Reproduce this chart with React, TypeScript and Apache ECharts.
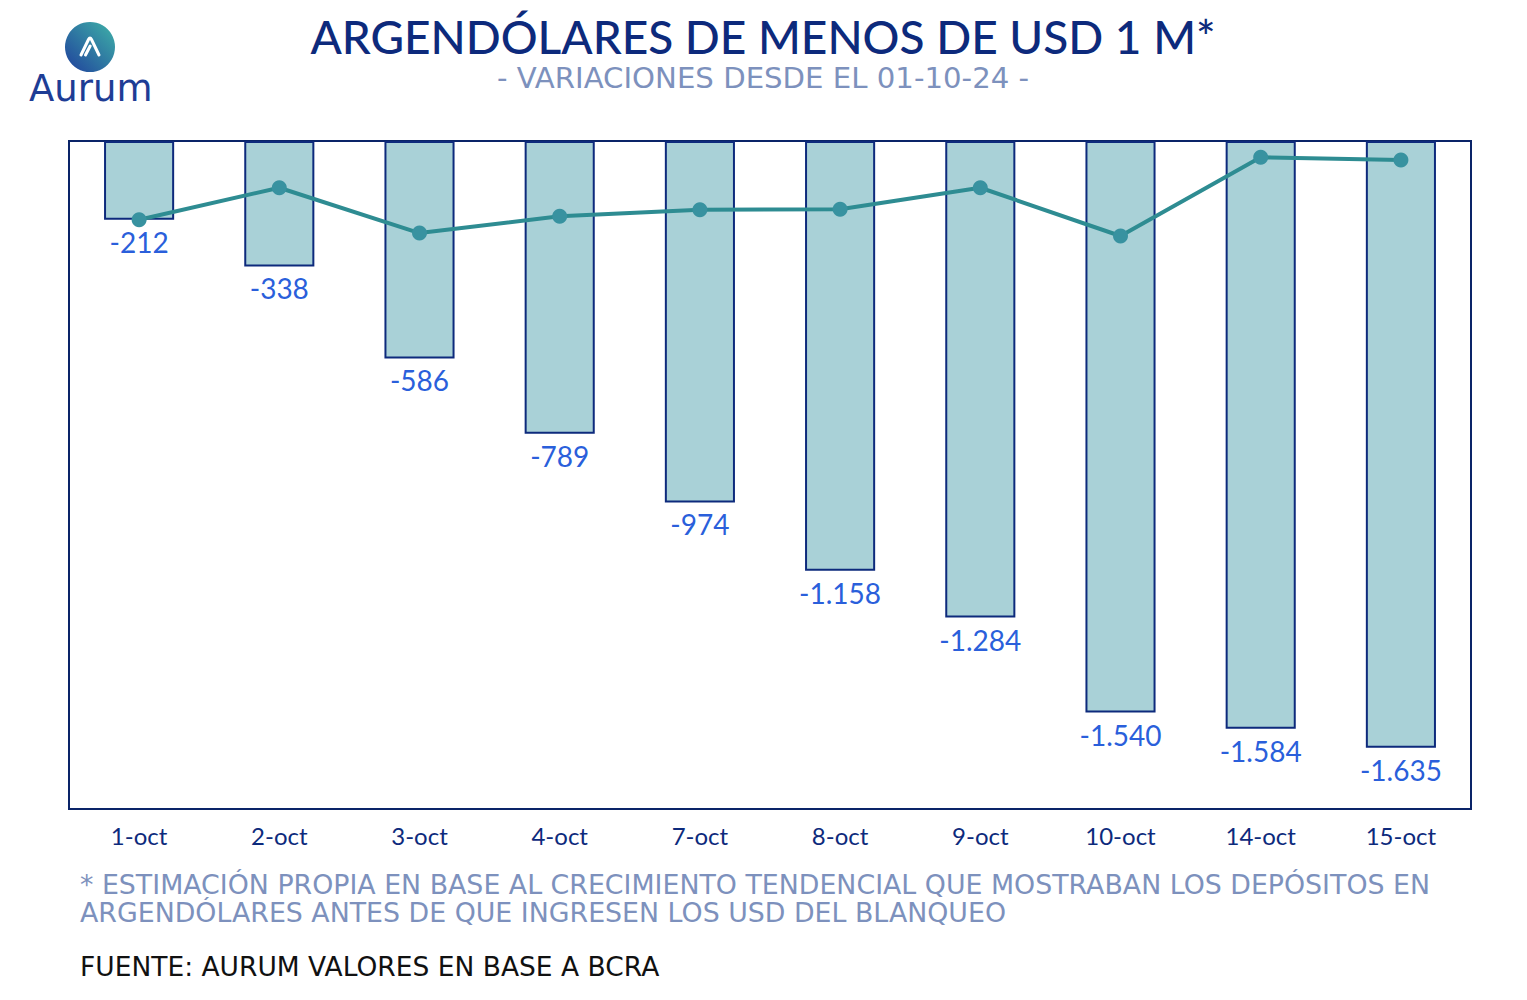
import React, { useEffect, useRef } from "react";
import * as echarts from "echarts";

const categories = ["1-oct", "2-oct", "3-oct", "4-oct", "7-oct", "8-oct", "9-oct", "10-oct", "14-oct", "15-oct"];
const cumulativeValues = [-212, -338, -586, -789, -974, -1158, -1284, -1540, -1584, -1635];
const dailyValues = [-212, -126, -248, -203, -185, -184, -126, -256, -44, -51];

const titleText = "ARGENDÓLARES DE MENOS DE USD 1 M*";
const subtitleText = "- VARIACIONES DESDE EL 01-10-24 -";
const noteLines = [
  "* ESTIMACIÓN PROPIA EN BASE AL CRECIMIENTO TENDENCIAL QUE MOSTRABAN LOS DEPÓSITOS EN",
  "ARGENDÓLARES ANTES DE QUE INGRESEN LOS USD DEL BLANQUEO",
];
const sourceText = "FUENTE: AURUM VALORES EN BASE A BCRA";
const logoText = "Aurum";

const FONT = "Lato, 'Noto Sans', sans-serif";
const WIDE = "'DejaVu Sans', sans-serif";
const NAVY = "#0d2a7c";
const LABEL_BLUE = "#2a5fdb";
const GREY_BLUE = "#7d91bd";

const ICON_D = "M3 20 L10.5 4.5 Q12 1.5 13.5 4.5 L21 20 M7.5 20 L12.2 11";

let registered = false;
function registerShapes() {
  if (registered) return;
  registered = true;
  echarts.graphic.registerShape("aurumIcon", echarts.graphic.extendPath(ICON_D, {}) as any);
}

function fmt(v: number): string {
  const s = Math.abs(v).toString();
  const withSep = s.replace(/\B(?=(\d{3})+(?!\d))/g, ".");
  return (v < 0 ? "-" : "") + withSep;
}

export default function App() {
  const ref = useRef<HTMLDivElement>(null);
  useEffect(() => {
    if (!ref.current) return;
    registerShapes();
    const chart = echarts.init(ref.current, null, { renderer: "svg" });
    chart.setOption({
      animation: false,
      backgroundColor: "#ffffff",
      textStyle: { fontFamily: FONT },
      grid: {
        left: 69,
        right: 56,
        top: 141,
        bottom: 191,
        show: true,
        borderColor: "#0a2468",
        borderWidth: 2,
        backgroundColor: "transparent",
      },
      xAxis: {
        type: "category",
        data: categories,
        position: "bottom",
        axisLine: { show: false, onZero: false },
        axisTick: { show: false },
        axisLabel: { color: NAVY, fontSize: 24, margin: 14, fontFamily: FONT },
      },
      yAxis: {
        type: "value",
        min: -1800,
        max: 0,
        axisLabel: { show: false },
        axisLine: { show: false },
        axisTick: { show: false },
        splitLine: { show: false },
      },
      series: [
        {
          type: "bar",
          data: cumulativeValues,
          barWidth: "50%",
          itemStyle: { color: "#a9d1d7", borderColor: NAVY, borderWidth: 2 },
          label: {
            show: true,
            position: "bottom",
            distance: 8,
            color: LABEL_BLUE,
            fontSize: 28,
            fontFamily: FONT,
            formatter: (p: any) => fmt(p.value),
          },
          z: 2,
        },
        {
          type: "line",
          data: dailyValues,
          symbol: "circle",
          symbolSize: 15,
          lineStyle: { color: "#2e8c92", width: 4 },
          itemStyle: { color: "#3892a0" },
          z: 5,
        },
      ],
      graphic: [
        {
          type: "circle",
          shape: { cx: 90, cy: 47, r: 25 },
          style: {
            fill: new echarts.graphic.LinearGradient(0, 1, 1, 0, [
              { offset: 0, color: "#1f3f9c" },
              { offset: 1, color: "#3fb3a8" },
            ]),
          },
        },
        {
          type: "aurumIcon",
          x: 78,
          y: 35,
          scaleX: 1,
          scaleY: 1,
          style: { fill: "none", stroke: "#ffffff", lineWidth: 3, lineCap: "round", lineJoin: "round" },
        },
        {
          type: "text",
          x: 29,
          y: 88,
          style: {
            text: logoText,
            fill: "#1e3d95",
            font: `400 37px ${WIDE}`,
            lineHeight: 37,
            textVerticalAlign: "middle",
          },
        },
        {
          type: "text",
          x: 763,
          y: 36,
          style: {
            text: titleText,
            fill: NAVY,
            font: `500 46px ${FONT}`,
            lineHeight: 46,
            textAlign: "center",
            textVerticalAlign: "middle",
          },
        },
        {
          type: "text",
          x: 763,
          y: 78,
          style: {
            text: subtitleText,
            fill: GREY_BLUE,
            font: `400 29.2px ${WIDE}`,
            lineHeight: 28,
            textAlign: "center",
            textVerticalAlign: "middle",
          },
        },
        {
          type: "text",
          x: 80,
          y: 898,
          style: {
            text: noteLines.join("\n"),
            fill: GREY_BLUE,
            font: `400 26.8px ${WIDE}`,
            lineHeight: 28,
            textVerticalAlign: "middle",
          },
        },
        {
          type: "text",
          x: 80,
          y: 966,
          style: {
            text: sourceText,
            fill: "#111111",
            font: `400 26.5px ${WIDE}`,
            lineHeight: 27,
            textVerticalAlign: "middle",
          },
        },
      ],
    });
    return () => chart.dispose();
  }, []);
  return <div ref={ref} style={{ width: 1527, height: 1000, margin: -8 }} />;
}
